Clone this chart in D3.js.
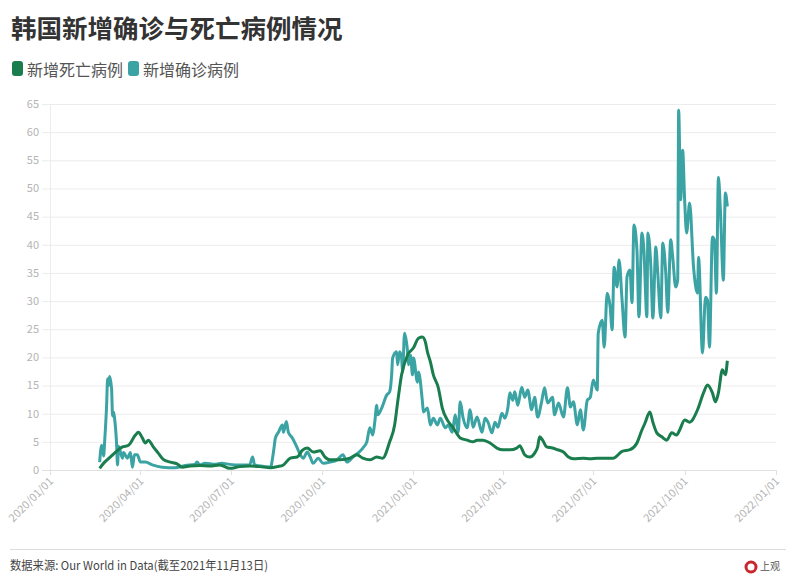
<!DOCTYPE html>
<html>
<head>
<meta charset="utf-8">
<script src="https://cdn.jsdelivr.net/npm/d3@7"></script>
<style>
body{margin:0;background:#fff;font-family:"Noto Sans CJK SC","Noto Sans",sans-serif;}
.grid line{stroke:#ececec;stroke-width:1;}
.ylab,.xlab{fill:#b4b4b4;font-size:11px;}
</style>
</head>
<body>
<script>
// 新增死亡病例
var deathDates=["2020-02-20","2020-02-25","2020-03-01","2020-03-06","2020-03-14","2020-03-20","2020-03-27","2020-03-30",
"2020-04-03","2020-04-06","2020-04-09","2020-04-14","2020-04-19","2020-04-24","2020-05-01","2020-05-08","2020-05-13",
"2020-05-21","2020-05-31","2020-06-10","2020-06-20","2020-06-30","2020-07-10","2020-07-20","2020-07-30","2020-08-10",
"2020-08-17","2020-08-23","2020-08-30","2020-09-06","2020-09-11","2020-09-16","2020-09-22","2020-09-29","2020-10-04",
"2020-10-09","2020-10-19","2020-10-29","2020-11-05","2020-11-11","2020-11-18","2020-11-25","2020-12-01","2020-12-08",
"2020-12-13","2020-12-16","2020-12-20","2020-12-26","2021-01-01","2021-01-06","2021-01-10","2021-01-13","2021-01-15",
"2021-01-18","2021-01-21","2021-01-26","2021-01-30","2021-02-04","2021-02-10","2021-02-17","2021-02-24","2021-03-02",
"2021-03-06","2021-03-12","2021-03-19","2021-03-26","2021-04-01","2021-04-08","2021-04-15","2021-04-18","2021-04-23",
"2021-04-28","2021-05-03","2021-05-06","2021-05-08","2021-05-11","2021-05-15","2021-05-21","2021-05-26","2021-06-01",
"2021-06-06","2021-06-11","2021-06-21","2021-06-28","2021-07-05","2021-07-15","2021-07-21","2021-07-30","2021-08-07",
"2021-08-14","2021-08-19","2021-08-22","2021-08-27","2021-08-30","2021-09-03","2021-09-08","2021-09-13","2021-09-18",
"2021-09-23","2021-09-26","2021-10-01","2021-10-06","2021-10-14","2021-10-20","2021-10-24","2021-10-29","2021-11-01",
"2021-11-04","2021-11-08","2021-11-11","2021-11-13"];
var deathValues=[0.3,1.4,2.2,3.0,4.1,4.4,6.2,6.7,
5.7,4.8,5.3,4.1,3.0,1.9,1.4,1.1,0.5,
0.7,0.8,0.7,0.9,0.3,0.6,0.7,0.6,0.4,
0.6,0.9,2.1,2.3,3.5,3.9,3.2,3.4,2.3,
1.8,1.8,2.1,2.7,2.1,1.8,2.3,2.1,5.0,
8.0,12,16.9,20.4,21.7,23.4,23.6,22.7,21,
19.2,16.9,14.6,11,8.9,7.5,5.7,5.3,5.0,
5.3,5.3,4.8,3.9,3.6,3.6,3.9,4.3,2.7,
2.3,3.0,4.1,5.9,5.3,4.1,3.9,3.6,3.2,
2.3,2.0,2.1,2.0,2.1,2.1,2.1,3.3,3.6,
4.8,7.1,8.3,10.3,8.5,6.6,5.9,5.3,6.6,
6.2,7.1,8.9,8.5,10.7,13.7,15.1,13.7,12.1,
13.7,17.8,16.9,19.4];

// 新增确诊病例
var caseDates=["2020-02-20","2020-02-22","2020-02-24","2020-02-25","2020-02-27","2020-02-28","2020-02-29","2020-03-01",
"2020-03-03","2020-03-04","2020-03-05","2020-03-06","2020-03-08","2020-03-09","2020-03-10","2020-03-14","2020-03-15",
"2020-03-19","2020-03-22","2020-03-24","2020-03-26","2020-03-29","2020-04-01","2020-04-06","2020-04-13","2020-04-23",
"2020-05-06","2020-05-16","2020-05-26","2020-05-28","2020-05-31","2020-06-05","2020-06-15","2020-06-22","2020-06-30",
"2020-07-10","2020-07-20","2020-07-23","2020-07-25","2020-08-05","2020-08-10","2020-08-13","2020-08-15","2020-08-18",
"2020-08-22","2020-08-23","2020-08-26","2020-08-28","2020-09-01","2020-09-06","2020-09-09","2020-09-12","2020-09-16",
"2020-09-19","2020-09-22","2020-09-27","2020-10-02","2020-10-09","2020-10-16","2020-10-22","2020-10-26","2020-11-01",
"2020-11-06","2020-11-11","2020-11-15","2020-11-18","2020-11-21","2020-11-23","2020-11-25","2020-11-26","2020-11-30",
"2020-12-05","2020-12-08","2020-12-10","2020-12-11","2020-12-15","2020-12-16","2020-12-18","2020-12-20","2020-12-21",
"2020-12-23","2020-12-26","2020-12-27","2020-12-29","2020-12-31","2021-01-01","2021-01-05","2021-01-06","2021-01-10",
"2021-01-11","2021-01-15","2021-01-18","2021-01-21","2021-01-25","2021-01-28","2021-02-02","2021-02-05","2021-02-09",
"2021-02-12","2021-02-15","2021-02-17","2021-02-20","2021-02-24","2021-02-27","2021-03-02","2021-03-06","2021-03-11",
"2021-03-14","2021-03-17","2021-03-21","2021-03-24","2021-03-27","2021-03-31","2021-04-03","2021-04-06","2021-04-08",
"2021-04-11","2021-04-13","2021-04-16","2021-04-20","2021-04-23","2021-04-26","2021-04-30","2021-05-03","2021-05-06",
"2021-05-10","2021-05-13","2021-05-16","2021-05-21","2021-05-23","2021-05-27","2021-06-01","2021-06-05","2021-06-08",
"2021-06-11","2021-06-15","2021-06-18","2021-06-21","2021-06-25","2021-06-28","2021-07-01","2021-07-05","2021-07-06",
"2021-07-10","2021-07-12","2021-07-15","2021-07-18","2021-07-20","2021-07-22","2021-07-25","2021-07-27","2021-07-30",
"2021-08-02","2021-08-04","2021-08-07","2021-08-09","2021-08-11","2021-08-14","2021-08-16","2021-08-19","2021-08-21",
"2021-08-24","2021-08-25","2021-08-28","2021-08-30","2021-09-02","2021-09-04","2021-09-07","2021-09-09","2021-09-12",
"2021-09-14","2021-09-17","2021-09-19","2021-09-22","2021-09-24","2021-09-25","2021-09-27","2021-09-29","2021-10-01",
"2021-10-03","2021-10-06","2021-10-10","2021-10-14","2021-10-15","2021-10-19","2021-10-22","2021-10-24","2021-10-26",
"2021-10-29","2021-10-31","2021-11-02","2021-11-04","2021-11-06","2021-11-09","2021-11-11","2021-11-13"];
var caseValues=[1.4,4.4,2.5,5.0,11.5,16.2,15.0,16.6,
14.5,9.6,10.3,9.2,4.8,0.9,4.2,2.1,3.1,
2.1,3.1,0.5,2.7,2.7,1.4,1.4,0.9,0.5,
0.4,0.8,1.0,1.4,0.9,1.2,1.0,1.2,1.0,
0.9,0.9,2.3,0.9,0.6,0.5,3.2,5.7,6.7,
8.0,6.7,8.6,6.7,5.7,3.9,2.7,2.1,3.2,
2.3,1.2,2.1,1.2,1.4,1.8,2.7,1.4,2.3,
3.0,3.9,5.0,7.5,6.2,8.5,11.5,9.8,11.0,
13.3,13.9,16.9,19.9,21.0,18.7,21.0,19.9,17.4,
24.3,21.0,18.7,20.4,16.9,19.9,15.6,17.4,12.1,
10.3,11.0,8.0,9.2,8.0,9.2,7.5,8.0,6.7,
9.8,6.7,12.1,9.2,7.5,10.7,7.6,9.4,6.7,
9.2,8.5,6.6,8.5,7.6,10.1,9.2,11.0,13.7,
12.4,13.9,11.5,14.7,12.9,14.2,10.7,12.9,9.4,
12.1,14.6,11.9,12.9,9.8,11.9,9.4,14.6,11.2,
12.1,8.0,10.7,7.1,12.4,12.9,16.0,14.2,24.3,
26.6,21.8,31.4,29.0,24.9,36.0,32.5,37.3,30.2,
23.6,34.3,35.5,29.7,43.5,39.0,27.2,42.1,39.0,
27.2,42.1,36.0,27.0,39.6,34.8,27.0,40.3,35.0,
28.0,40.9,37.8,32.5,33.7,63.9,48.0,56.8,48.0,
42.1,47.4,36.0,31.4,37.8,20.8,30.7,30.2,21.8,
41.4,40.8,31.4,52.0,46.2,33.7,49.2,46.8];

var yTicks=[0,5,10,15,20,25,30,35,40,45,50,55,60,65];
var xTickDates=["2020-01-01","2020-04-01","2020-07-01","2020-10-01","2021-01-01","2021-04-01","2021-07-01","2021-10-01","2022-01-01"];
var seriesNames=["新增死亡病例","新增确诊病例"];
var seriesColors=["#1a7d4d","#3ba3a3"];

var width=796, height=575;
var parse=d3.timeParse("%Y-%m-%d"), fmt=d3.timeFormat("%Y/%m/%d");

var svg=d3.select("body").append("svg").attr("width",width).attr("height",height);

var x=d3.scaleTime().domain([parse("2020-01-01"),parse("2022-01-01")]).range([50,776]);
var y=d3.scaleLinear().domain([0,65]).range([470,104]);

// title + legend
svg.append("text").attr("x",11).attr("y",38).text("韩国新增确诊与死亡病例情况")
	.style("font-size","25.5px").style("font-weight","bold").style("fill","#333");

var legendX=[12,128];
seriesNames.forEach(function(n,i) {
	svg.append("rect").attr("x",legendX[i]).attr("y",61).attr("width",11).attr("height",15)
		.attr("rx",3).attr("fill",seriesColors[i]);
	svg.append("text").attr("x",legendX[i]+15).attr("y",75.5).text(n)
		.style("font-size","16px").style("fill","#555");
});

// grid + y labels
var grid=svg.append("g").classed("grid",true);
grid.selectAll("line.h").data(yTicks).enter().append("line")
	.attr("x1",42).attr("x2",776)
	.attr("y1",function(d) {return y(d)+0.5}).attr("y2",function(d) {return y(d)+0.5});
grid.append("line").attr("x1",50.5).attr("x2",50.5).attr("y1",y(65)).attr("y2",y(0));
svg.append("line").attr("x1",42).attr("x2",776).attr("y1",y(0)+0.5).attr("y2",y(0)+0.5).attr("stroke","#e0e0e0");

svg.selectAll(".ylab").data(yTicks).enter().append("text").classed("ylab",true)
	.attr("x",39).attr("y",function(d) {return y(d)}).attr("dy","0.35em")
	.attr("text-anchor","end").text(function(d) {return d});

// x ticks, rotated labels
var xDates=xTickDates.map(parse);
svg.selectAll(".xtick").data(xDates).enter().append("line")
	.attr("x1",function(d) {return Math.round(x(d))+0.5}).attr("x2",function(d) {return Math.round(x(d))+0.5})
	.attr("y1",y(0)).attr("y2",y(0)+5).attr("stroke","#e0e0e0");
svg.selectAll(".xlab").data(xDates).enter().append("text").classed("xlab",true)
	.attr("text-anchor","end")
	.attr("transform",function(d) {return "translate("+(x(d)+4)+","+(y(0)+12)+") rotate(-45)"})
	.text(function(d) {return fmt(d)});

// lines
var line=d3.line().curve(d3.curveMonotoneX).x(function(d) {return x(d[0])}).y(function(d) {return y(d[1])});
var caseData=caseDates.map(function(d,i) {return [parse(d),caseValues[i]]});
var deathData=deathDates.map(function(d,i) {return [parse(d),deathValues[i]]});

svg.append("path").datum(caseData).attr("d",line).attr("fill","none")
	.attr("stroke",seriesColors[1]).attr("stroke-width",3).attr("stroke-linejoin","round");
svg.append("path").datum(deathData).attr("d",line).attr("fill","none")
	.attr("stroke",seriesColors[0]).attr("stroke-width",3).attr("stroke-linejoin","round");

// footer
svg.append("line").attr("x1",10).attr("x2",786).attr("y1",549.5).attr("y2",549.5).attr("stroke","#ddd");
svg.append("text").attr("x",10).attr("y",570).text("数据来源: Our World in Data(截至2021年11月13日)")
	.attr("textLength",258).attr("lengthAdjust","spacingAndGlyphs")
	.style("font-size","12px").style("fill","#444");
svg.append("circle").attr("cx",751).attr("cy",567).attr("r",5).attr("fill","none")
	.attr("stroke","#c8282d").attr("stroke-width",3);
svg.append("text").attr("x",760).attr("y",570).text("上观")
	.style("font-size","10px").style("fill","#555");
</script>
</body>
</html>
